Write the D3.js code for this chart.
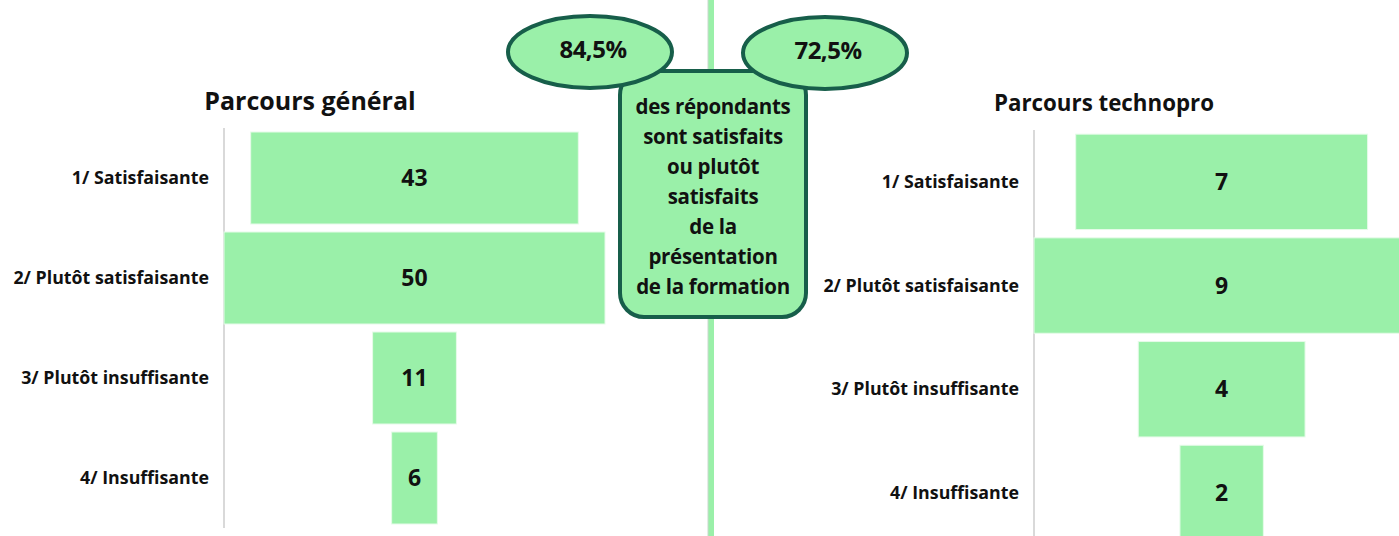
<!DOCTYPE html>
<html>
<head>
<meta charset="utf-8">
<script src="https://cdn.jsdelivr.net/npm/d3@7"></script>
<style>
  body { margin: 0; background: #fff; }
  svg { display: block; font-family: "Open Sans", sans-serif; }
</style>
</head>
<body>
<svg width="1399" height="536"></svg>
<script>
// data
var categories = ["1/ Satisfaisante", "2/ Plutôt satisfaisante", "3/ Plutôt insuffisante", "4/ Insuffisante"];
var generalValues = [43, 50, 11, 6];
var technoValues = [7, 9, 4, 2];
var titles = ["Parcours général", "Parcours technopro"];
var percentLabels = ["84,5%", "72,5%"];
var calloutLines = ["des répondants", "sont satisfaits", "ou plutôt", "satisfaits", "de la", "présentation", "de la formation"];

var GREEN = "#9af0a9";
var DARK = "#175e4a";

var svg = d3.select("svg");

// one funnel panel
function drawFunnel(values, title, opt) {
  var g = svg.append("g");
  var max = d3.max(values);
  var x = d3.scaleLinear()
    .domain([-max / 2, max / 2])
    .range([opt.left, opt.left + max * opt.unit]);
  var y = d3.scaleBand()
    .domain(categories)
    .range([opt.top, opt.top + 4 * opt.step])
    .paddingInner(0.08)
    .paddingOuter(0.04);

  // category axis line
  g.append("line")
    .attr("x1", opt.left).attr("x2", opt.left)
    .attr("y1", opt.top).attr("y2", opt.axisBottom)
    .attr("stroke", "#d9d9d9").attr("stroke-width", 2);

  var rows = g.selectAll(".row")
    .data(values)
    .enter().append("g");

  rows.append("rect")
    .attr("x", function(d) { return x(-d / 2); })
    .attr("y", function(d, i) { return y(categories[i]); })
    .attr("width", function(d) { return x(d / 2) - x(-d / 2); })
    .attr("height", y.bandwidth())
    .attr("fill", GREEN)
    .attr("stroke", "#e6fbe9").attr("stroke-width", 1);

  rows.append("text")
    .attr("x", x(0))
    .attr("y", function(d, i) { return y(categories[i]) + y.bandwidth() / 2; })
    .attr("dy", "0.35em")
    .attr("text-anchor", "middle")
    .attr("font-size", 23).attr("font-weight", "bold")
    .attr("fill", "#111")
    .text(function(d) { return d; });

  rows.append("text")
    .attr("x", opt.labelX)
    .attr("y", function(d, i) { return y(categories[i]) + y.bandwidth() / 2; })
    .attr("dy", "0.35em")
    .attr("text-anchor", "end")
    .attr("font-size", 17.8).attr("font-weight", "bold")
    .attr("fill", "#111")
    .text(function(d, i) { return categories[i]; });

  g.append("text")
    .attr("x", opt.titleX).attr("y", opt.titleY)
    .attr("text-anchor", "middle")
    .attr("font-size", opt.titleSize).attr("font-weight", "bold")
    .attr("fill", "#111")
    .text(title);
}

// divider
svg.append("rect")
  .attr("x", 708).attr("y", 0).attr("width", 6).attr("height", 536)
  .attr("fill", GREEN);
svg.append("line")
  .attr("x1", 708).attr("x2", 708).attr("y1", 0).attr("y2", 536)
  .attr("stroke", "#c8d8cc").attr("stroke-width", 1);

drawFunnel(generalValues, titles[0], {
  left: 224, unit: 7.62, top: 128, step: 100, axisBottom: 528,
  labelX: 209, titleX: 310, titleY: 110, titleSize: 25
});
drawFunnel(technoValues, titles[1], {
  left: 1034, unit: 41.7, top: 130, step: 103.7, axisBottom: 536,
  labelX: 1019, titleX: 1104, titleY: 111, titleSize: 22.3
});

// callout box
svg.append("rect")
  .attr("x", 620).attr("y", 71).attr("width", 186).attr("height", 246)
  .attr("rx", 24)
  .attr("fill", GREEN).attr("stroke", DARK).attr("stroke-width", 4);

svg.append("g").selectAll("text")
  .data(calloutLines)
  .enter().append("text")
  .attr("x", 713)
  .attr("y", function(d, i) { return 107 + i * 30; })
  .attr("dy", "0.35em")
  .attr("text-anchor", "middle")
  .attr("font-size", 20.5).attr("font-weight", "bold")
  .attr("letter-spacing", -0.3)
  .attr("fill", "#111")
  .text(function(d) { return d; });

var bubbles = [{cx: 590, cy: 52}, {cx: 825, cy: 53}];
var bub = svg.append("g").selectAll("g")
  .data(percentLabels)
  .enter().append("g");
bub.append("ellipse")
  .attr("cx", function(d, i) { return bubbles[i].cx; })
  .attr("cy", function(d, i) { return bubbles[i].cy; })
  .attr("rx", 82).attr("ry", 36)
  .attr("fill", GREEN).attr("stroke", DARK).attr("stroke-width", 4);
bub.append("text")
  .attr("x", function(d, i) { return bubbles[i].cx + 3; })
  .attr("y", function(d, i) { return bubbles[i].cy - 2; })
  .attr("dy", "0.35em")
  .attr("text-anchor", "middle")
  .attr("font-size", 24).attr("font-weight", "bold")
  .attr("letter-spacing", -0.5)
  .attr("fill", "#111")
  .text(function(d) { return d; });
</script>
</body>
</html>
